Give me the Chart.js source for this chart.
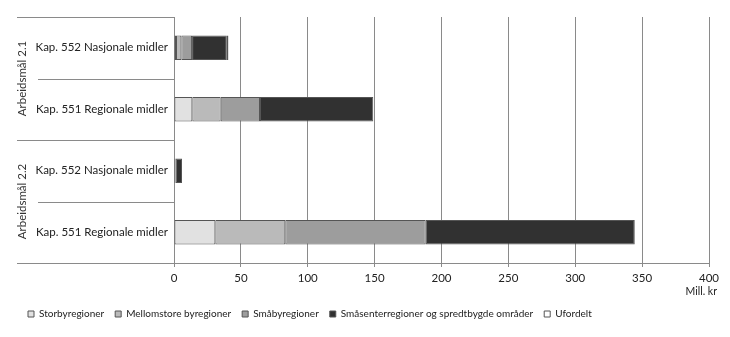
<!DOCTYPE html>
<html>
<head>
<meta charset="utf-8">
<script src="https://cdn.jsdelivr.net/npm/chart.js@4/dist/chart.umd.min.js"></script>
<style>
  html, body { margin: 0; padding: 0; background: #fff; }
  #wrap { width: 730px; height: 337px; }
</style>
</head>
<body>
<div id="wrap"><canvas id="chart"></canvas></div>
<script>
// categories (inner labels) and their groups
const categories = ['Kap. 552 Nasjonale midler', 'Kap. 551 Regionale midler', 'Kap. 552 Nasjonale midler', 'Kap. 551 Regionale midler'];
const groups = ['Arbeidsmål 2.1', 'Arbeidsmål 2.2'];
const groupSize = 2;

// values, mill. kr
const storby = [1.5, 13.7, 1.2, 30.9];
const mellomstore = [4.0, 21.2, 0, 52.3];
const smaaby = [8.0, 29.4, 0, 105.0];
const smaasenter = [26.0, 84.7, 4.8, 156.3];
const ufordelt = [1.2, 0, 0, 0];

const xTicks = [0, 50, 100, 150, 200, 250, 300, 350, 400];
const unitLabel = 'Mill. kr';

const FONT = 'Lato, "Open Sans", sans-serif';

// draws the group labels, separator lines left of the plot and the unit label
const groupAxis = {
    id: 'groupAxis',
    afterDraw(chart) {
        const ctx = chart.ctx;
        const y = chart.scales.y;
        const area = chart.chartArea;
        const left = 17, innerLeft = 38;
        const step = y.getPixelForTick(1) - y.getPixelForTick(0);
        ctx.save();
        ctx.strokeStyle = '#8a8a8a';
        ctx.lineWidth = 1;
        for (let i = 0; i <= categories.length; i++) {
            const py = Math.round(y.getPixelForTick(0) - step / 2 + i * step) + 0.5;
            const x0 = (i % groupSize === 0) ? left : innerLeft;
            ctx.beginPath();
            ctx.moveTo(x0, py);
            ctx.lineTo(area.left, py);
            ctx.stroke();
        }
        ctx.fillStyle = '#333';
        ctx.font = '11.5px ' + FONT;
        ctx.textAlign = 'center';
        ctx.textBaseline = 'middle';
        groups.forEach((g, gi) => {
            const top = y.getPixelForTick(gi * groupSize) - step / 2;
            const cy = top + step * groupSize / 2;
            ctx.save();
            ctx.translate(22, cy);
            ctx.rotate(-Math.PI / 2);
            ctx.fillText(g, 0, 0);
            ctx.restore();
        });
        // unit label under the last tick
        ctx.fillStyle = '#222';
        ctx.font = '10.5px ' + FONT;
        ctx.textAlign = 'right';
        ctx.fillText(unitLabel, area.right + 8, area.bottom + 29);
        ctx.restore();
    }
};

function ds(label, data, color) {
    return {
        label: label,
        data: data,
        backgroundColor: color,
        borderColor: '#555',
        borderWidth: 1,
        borderSkipped: false,
        categoryPercentage: 0.8,
        barPercentage: 0.5
    };
}

new Chart(document.getElementById('chart'), {
    type: 'bar',
    data: {
        labels: categories,
        datasets: [
            ds('Storbyregioner', storby, '#e1e1e1'),
            ds('Mellomstore byregioner', mellomstore, '#bababa'),
            ds('Småbyregioner', smaaby, '#9d9d9d'),
            ds('Småsenterregioner og spredtbygde områder', smaasenter, '#313131'),
            ds('Ufordelt', ufordelt, '#ffffff')
        ]
    },
    options: {
        indexAxis: 'y',
        responsive: true,
        maintainAspectRatio: false,
        animation: false,
        layout: { padding: { left: 17, right: 21, top: 17, bottom: 8 } },
        scales: {
            x: {
                stacked: true,
                min: 0,
                max: 400,
                afterBuildTicks(scale) { scale.ticks = xTicks.map(v => ({ value: v })); },
                afterFit(scale) { scale.height = 35; },
                grid: { color: '#8a8a8a', tickLength: 4, lineWidth: 1 },
                border: { color: '#8a8a8a' },
                ticks: { color: '#222', font: { family: FONT, size: 11.5 }, padding: 4 }
            },
            y: {
                stacked: true,
                grid: { display: false, drawTicks: false },
                border: { display: false },
                afterFit(scale) { scale.width = 157; },
                ticks: { color: '#222', font: { family: FONT, size: 11.5 }, padding: 6 }
            }
        },
        plugins: {
            legend: {
                position: 'bottom',
                align: 'start',
                labels: {
                    boxWidth: 6, boxHeight: 6, padding: 11,
                    color: '#222', font: { family: FONT, size: 10 }
                }
            },
            tooltip: { enabled: false }
        }
    },
    plugins: [groupAxis]
});
</script>
</body>
</html>
